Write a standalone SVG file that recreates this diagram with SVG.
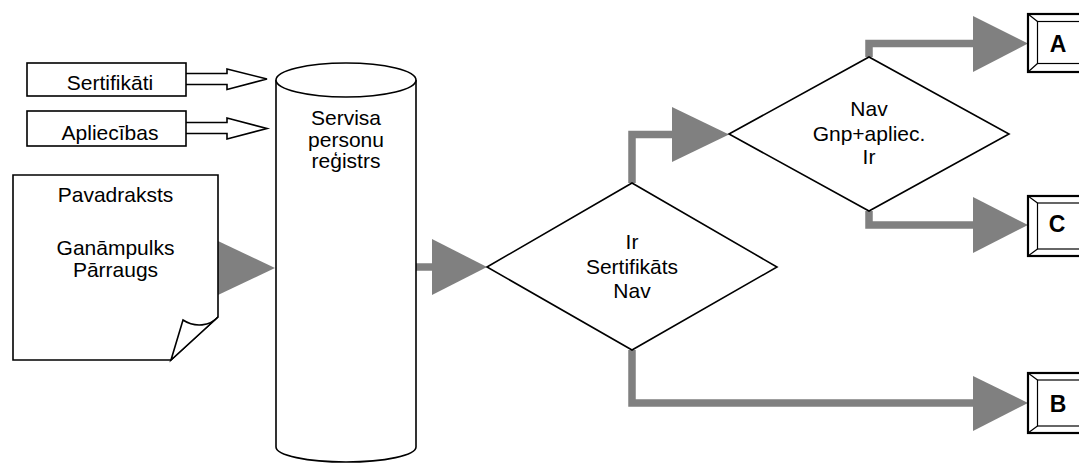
<svg xmlns="http://www.w3.org/2000/svg" width="1079" height="463" viewBox="0 0 1079 463">
<style>
.t{font-family:"Liberation Sans",Arial,sans-serif;font-size:21px;fill:#000;text-anchor:middle}
.b{font-family:"Liberation Sans",Arial,sans-serif;font-size:23px;font-weight:bold;fill:#000;text-anchor:middle}
.n{fill:#fff;stroke:#000;stroke-width:1.6;stroke-linejoin:miter}
.c{fill:none;stroke:#808080;stroke-width:7.5;stroke-linejoin:miter;stroke-linecap:butt}
.h{fill:#808080;stroke:none}
.bo{fill:#fff;stroke:#000;stroke-width:2.2}
.bi{fill:none;stroke:#000;stroke-width:1.2}
</style>
<rect width="1079" height="463" fill="#fff"/>
<g id="connectors">
<polygon class="h" points="218,241 218,295 275,268"/>
<path class="c" d="M416,267 H434"/>
<polygon class="h" points="432,239 432,295 487,267"/>
<path class="c" d="M632,183 V134.5 H674"/>
<polygon class="h" points="672,107 672,162 729,134.5"/>
<path class="c" d="M869,57 V43.5 H975"/>
<polygon class="h" points="973,16 973,72 1028,43.5"/>
<path class="c" d="M869,211 V225 H975"/>
<polygon class="h" points="973,197 973,253 1028,225"/>
<path class="c" d="M632,350 V403 H975"/>
<polygon class="h" points="973,376 973,431 1028,403"/>
<path class="n" d="M186,73.5 H227 V69 L267,79 L227,89.5 V84.5 H186"/>
<path class="n" d="M186,122.5 H227 V118 L267,128.5 L227,139 V133.5 H186"/>
</g>
<g id="sertifikati">
<rect class="n" x="27" y="63" width="159" height="33"/>
<text class="t" x="110" y="89.5">Sertifikāti</text>
</g>
<g id="apliecibas">
<rect class="n" x="27" y="111" width="159" height="35"/>
<text class="t" x="110" y="139.5">Apliecības</text>
</g>
<g id="pavadraksts">
<path class="n" d="M13,175 H218 V317 L171,360 H13 Z"/>
<path class="n" d="M218,317 C210,326 195,328 183,320 L171,360 Z"/>
<text class="t" x="115.5" y="201.5">Pavadraksts</text>
<text class="t" x="115.5" y="254.5">Ganāmpulks</text>
<text class="t" x="115.5" y="276.5">Pārraugs</text>
</g>
<g id="registrs">
<path class="n" d="M276,80 V447 A70,15 0 0 0 416,447 V80"/>
<ellipse class="n" cx="346" cy="80" rx="70" ry="17"/>
<text class="t" x="346" y="125">Servisa</text>
<text class="t" x="346" y="146.5">personu</text>
<text class="t" x="346" y="168">reģistrs</text>
</g>
<g id="lemums1">
<polygon class="n" points="487,267 632,183 777,267 632,350"/>
<text class="t" x="632" y="248.5">Ir</text>
<text class="t" x="632" y="274">Sertifikāts</text>
<text class="t" x="632" y="297.5">Nav</text>
</g>
<g id="lemums2">
<polygon class="n" points="729,134 869,57 1009,134 869,211"/>
<text class="t" x="869" y="116">Nav</text>
<text class="t" x="869" y="140.5">Gnp+apliec.</text>
<text class="t" x="869" y="164">Ir</text>
</g>
<g id="boxA">
<rect class="bo" x="1028" y="14" width="80" height="58"/>
<rect class="bi" x="1037.5" y="21.5" width="60" height="42"/>
<path class="bi" d="M1028,14 L1037.5,21.5 M1028,72 L1037.5,63.5"/>
<text class="b" x="1058" y="51.5">A</text>
</g>
<g id="boxC">
<rect class="bo" x="1028" y="196" width="80" height="60"/>
<rect class="bi" x="1037.5" y="203" width="60" height="46"/>
<path class="bi" d="M1028,196 L1037.5,203 M1028,256 L1037.5,249"/>
<text class="b" x="1057" y="231.5">C</text>
</g>
<g id="boxB">
<rect class="bo" x="1028" y="373" width="80" height="60"/>
<rect class="bi" x="1037.5" y="380" width="60" height="46"/>
<path class="bi" d="M1028,373 L1037.5,380 M1028,433 L1037.5,426"/>
<text class="b" x="1058" y="411.5">B</text>
</g>
</svg>
